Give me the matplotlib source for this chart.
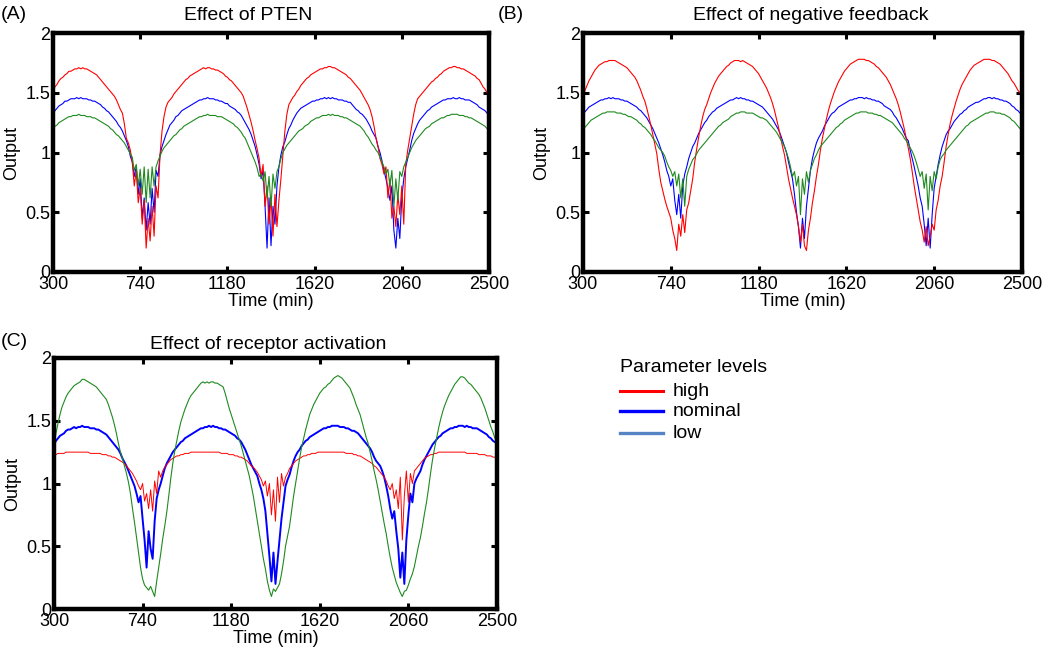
import matplotlib
matplotlib.use("Agg")
import matplotlib.pyplot as plt
from matplotlib.lines import Line2D
import numpy as np

plt.rcParams['font.family'] = ['Liberation Sans', 'DejaVu Sans']

# time grid (min), one sample every 10 min
t = np.arange(300, 2501, 10)

# ---- (A) Effect of PTEN ----
red_a = [1.52, 1.55, 1.57, 1.60, 1.62, 1.63, 1.65, 1.66, 1.68, 1.68, 1.69, 1.70, 1.70, 1.71, 1.70, 1.71, 1.70, 1.70, 1.69, 1.68,
         1.67, 1.66, 1.65, 1.63, 1.61, 1.59, 1.57, 1.55, 1.53, 1.51, 1.49, 1.47, 1.44, 1.40, 1.36, 1.33, 1.24, 1.12, 1.08, 1.02,
         0.92, 0.72, 0.85, 0.58, 0.70, 0.40, 0.60, 0.20, 0.45, 0.26, 0.55, 0.30, 0.72, 0.62, 0.98, 1.18, 1.30, 1.38, 1.42, 1.44,
         1.46, 1.49, 1.51, 1.53, 1.55, 1.57, 1.59, 1.61, 1.62, 1.64, 1.65, 1.66, 1.67, 1.68, 1.69, 1.70, 1.71, 1.70, 1.71, 1.71,
         1.70, 1.70, 1.69, 1.69, 1.68, 1.67, 1.66, 1.64, 1.63, 1.61, 1.60, 1.58, 1.56, 1.54, 1.52, 1.50, 1.47, 1.42, 1.37, 1.31,
         1.25, 1.18, 1.10, 1.03, 0.95, 0.80, 0.90, 0.55, 0.72, 0.40, 0.62, 0.30, 0.65, 0.38, 0.60, 0.78, 0.98, 1.18, 1.32, 1.40,
         1.43, 1.46, 1.48, 1.51, 1.53, 1.56, 1.58, 1.60, 1.62, 1.63, 1.65, 1.66, 1.67, 1.68, 1.69, 1.70, 1.70, 1.71, 1.71, 1.72,
         1.72, 1.71, 1.71, 1.70, 1.69, 1.68, 1.67, 1.66, 1.65, 1.63, 1.62, 1.60, 1.58, 1.56, 1.54, 1.52, 1.49, 1.46, 1.43, 1.40,
         1.36, 1.30, 1.22, 1.12, 1.05, 0.95, 0.90, 0.82, 0.88, 0.62, 0.78, 0.45, 0.55, 0.38, 0.65, 0.48, 0.72, 0.40, 0.90, 1.02,
         1.12, 1.22, 1.32, 1.40, 1.45, 1.47, 1.49, 1.51, 1.53, 1.55, 1.57, 1.59, 1.60, 1.62, 1.63, 1.65, 1.66, 1.68, 1.69, 1.70,
         1.71, 1.71, 1.72, 1.72, 1.71, 1.71, 1.70, 1.70, 1.69, 1.68, 1.67, 1.66, 1.65, 1.64, 1.62, 1.61, 1.58, 1.55, 1.53, 1.50,
         1.48]
blue_a = [1.33, 1.35, 1.37, 1.39, 1.40, 1.41, 1.43, 1.43, 1.44, 1.45, 1.45, 1.45, 1.46, 1.45, 1.46, 1.45, 1.45, 1.45, 1.44, 1.44,
          1.43, 1.43, 1.42, 1.41, 1.40, 1.38, 1.37, 1.35, 1.34, 1.32, 1.30, 1.28, 1.26, 1.23, 1.21, 1.18, 1.14, 1.10, 1.05, 0.97,
          0.92, 0.80, 0.88, 0.65, 0.78, 0.45, 0.62, 0.35, 0.58, 0.40, 0.70, 0.50, 0.85, 0.80, 0.98, 1.05, 1.10, 1.15, 1.19, 1.23,
          1.25, 1.27, 1.30, 1.31, 1.33, 1.35, 1.36, 1.37, 1.38, 1.39, 1.40, 1.41, 1.42, 1.43, 1.44, 1.44, 1.45, 1.45, 1.46, 1.45,
          1.45, 1.45, 1.44, 1.44, 1.43, 1.43, 1.42, 1.41, 1.41, 1.39, 1.38, 1.37, 1.36, 1.34, 1.33, 1.31, 1.28, 1.25, 1.22, 1.19,
          1.15, 1.10, 1.05, 0.98, 0.90, 0.78, 0.85, 0.55, 0.20, 0.62, 0.22, 0.55, 0.40, 0.72, 0.88, 0.98, 1.05, 1.09, 1.15, 1.20,
          1.23, 1.27, 1.30, 1.33, 1.35, 1.37, 1.38, 1.39, 1.40, 1.41, 1.42, 1.43, 1.43, 1.44, 1.44, 1.45, 1.45, 1.46, 1.45, 1.46,
          1.45, 1.46, 1.45, 1.45, 1.44, 1.44, 1.44, 1.43, 1.43, 1.42, 1.42, 1.40, 1.38, 1.36, 1.35, 1.33, 1.32, 1.30, 1.28, 1.25,
          1.22, 1.18, 1.15, 1.12, 1.05, 1.00, 0.93, 0.85, 0.78, 0.70, 0.60, 0.72, 0.35, 0.20, 0.45, 0.28, 0.62, 0.78, 0.88, 0.95,
          1.02, 1.10, 1.16, 1.20, 1.24, 1.27, 1.29, 1.31, 1.33, 1.35, 1.36, 1.38, 1.39, 1.40, 1.41, 1.42, 1.43, 1.44, 1.44, 1.45,
          1.45, 1.45, 1.46, 1.45, 1.45, 1.46, 1.45, 1.45, 1.44, 1.44, 1.44, 1.43, 1.42, 1.41, 1.40, 1.38, 1.37, 1.36, 1.35, 1.33,
          1.32]
green_a = [1.20, 1.22, 1.23, 1.25, 1.26, 1.27, 1.28, 1.29, 1.30, 1.30, 1.31, 1.31, 1.31, 1.32, 1.31, 1.31, 1.31, 1.30, 1.30, 1.30,
           1.29, 1.29, 1.28, 1.27, 1.26, 1.25, 1.24, 1.23, 1.22, 1.20, 1.19, 1.17, 1.15, 1.14, 1.12, 1.10, 1.08, 1.05, 1.02, 0.99,
           0.96, 0.85, 0.90, 0.72, 0.86, 0.65, 0.88, 0.58, 0.86, 0.62, 0.88, 0.72, 0.88, 0.93, 0.97, 1.01, 1.04, 1.06, 1.08, 1.10,
           1.12, 1.14, 1.15, 1.17, 1.19, 1.20, 1.22, 1.23, 1.24, 1.25, 1.26, 1.27, 1.28, 1.29, 1.30, 1.30, 1.31, 1.31, 1.32, 1.31,
           1.31, 1.31, 1.31, 1.30, 1.30, 1.30, 1.29, 1.28, 1.27, 1.26, 1.25, 1.24, 1.22, 1.21, 1.19, 1.17, 1.14, 1.12, 1.08, 1.04,
           1.00, 0.96, 0.92, 0.87, 0.80, 0.82, 0.76, 0.84, 0.62, 0.80, 0.55, 0.82, 0.70, 0.84, 0.88, 0.95, 1.00, 1.03, 1.06, 1.08,
           1.10, 1.12, 1.14, 1.16, 1.18, 1.19, 1.20, 1.22, 1.23, 1.24, 1.26, 1.27, 1.28, 1.29, 1.29, 1.30, 1.31, 1.31, 1.31, 1.32,
           1.31, 1.32, 1.31, 1.31, 1.31, 1.30, 1.30, 1.29, 1.29, 1.28, 1.27, 1.26, 1.25, 1.24, 1.23, 1.22, 1.20, 1.18, 1.15, 1.13,
           1.10, 1.07, 1.05, 1.02, 1.00, 0.96, 0.92, 0.88, 0.82, 0.86, 0.72, 0.85, 0.55, 0.78, 0.60, 0.84, 0.80, 0.88, 0.92, 0.96,
           1.00, 1.04, 1.07, 1.10, 1.12, 1.14, 1.16, 1.18, 1.20, 1.21, 1.22, 1.24, 1.25, 1.26, 1.27, 1.28, 1.29, 1.29, 1.30, 1.31,
           1.31, 1.32, 1.32, 1.32, 1.32, 1.31, 1.31, 1.31, 1.30, 1.30, 1.29, 1.29, 1.28, 1.27, 1.26, 1.25, 1.24, 1.23, 1.22, 1.20,
           1.19]

# ---- (B) Effect of negative feedback ----
red_b = [1.47, 1.52, 1.56, 1.60, 1.63, 1.66, 1.69, 1.71, 1.73, 1.74, 1.75, 1.76, 1.76, 1.77, 1.77, 1.77, 1.77, 1.76, 1.75, 1.74,
         1.73, 1.72, 1.71, 1.69, 1.67, 1.65, 1.63, 1.60, 1.56, 1.52, 1.47, 1.43, 1.37, 1.30, 1.23, 1.15, 1.07, 0.99, 0.86, 0.75,
         0.68, 0.61, 0.55, 0.50, 0.45, 0.35, 0.28, 0.18, 0.40, 0.30, 0.48, 0.33, 0.52, 0.58, 0.68, 0.78, 0.92, 1.03, 1.13, 1.22,
         1.30, 1.36, 1.40, 1.45, 1.50, 1.54, 1.58, 1.61, 1.64, 1.66, 1.68, 1.70, 1.72, 1.73, 1.75, 1.76, 1.77, 1.77, 1.77, 1.76,
         1.77, 1.76, 1.75, 1.74, 1.73, 1.72, 1.70, 1.68, 1.66, 1.63, 1.60, 1.57, 1.54, 1.50, 1.46, 1.41, 1.35, 1.28, 1.21, 1.13,
         1.05, 0.98, 0.88, 0.78, 0.70, 0.62, 0.55, 0.48, 0.38, 0.25, 0.40, 0.22, 0.18, 0.35, 0.45, 0.58, 0.68, 0.80, 0.90, 1.02,
         1.12, 1.20, 1.28, 1.35, 1.41, 1.46, 1.51, 1.55, 1.59, 1.62, 1.65, 1.68, 1.70, 1.72, 1.74, 1.75, 1.76, 1.77, 1.78, 1.78,
         1.78, 1.78, 1.77, 1.77, 1.76, 1.75, 1.74, 1.72, 1.71, 1.69, 1.67, 1.65, 1.63, 1.60, 1.57, 1.53, 1.49, 1.45, 1.40, 1.34,
         1.27, 1.20, 1.12, 1.04, 0.95, 0.84, 0.72, 0.62, 0.52, 0.42, 0.35, 0.25, 0.38, 0.22, 0.30, 0.40, 0.35, 0.52, 0.60, 0.72,
         0.80, 0.92, 1.05, 1.15, 1.24, 1.31, 1.37, 1.43, 1.48, 1.53, 1.57, 1.60, 1.63, 1.66, 1.69, 1.71, 1.73, 1.74, 1.75, 1.76,
         1.77, 1.78, 1.78, 1.78, 1.78, 1.77, 1.77, 1.76, 1.75, 1.74, 1.72, 1.70, 1.68, 1.66, 1.63, 1.60, 1.58, 1.55, 1.52, 1.50,
         1.48]
blue_b = [1.32, 1.34, 1.36, 1.38, 1.39, 1.40, 1.41, 1.42, 1.43, 1.44, 1.44, 1.45, 1.45, 1.46, 1.45, 1.46, 1.45, 1.45, 1.45, 1.44,
          1.44, 1.43, 1.43, 1.42, 1.41, 1.40, 1.39, 1.38, 1.36, 1.35, 1.33, 1.31, 1.29, 1.26, 1.23, 1.20, 1.16, 1.12, 1.08, 1.03,
          0.98, 0.92, 0.85, 0.80, 0.72, 0.78, 0.60, 0.48, 0.65, 0.45, 0.72, 0.82, 0.88, 0.95, 1.00, 1.05, 1.08, 1.12, 1.16, 1.19,
          1.22, 1.25, 1.27, 1.30, 1.32, 1.34, 1.35, 1.37, 1.38, 1.39, 1.40, 1.41, 1.42, 1.43, 1.44, 1.44, 1.45, 1.46, 1.45, 1.46,
          1.45, 1.45, 1.44, 1.44, 1.43, 1.43, 1.42, 1.41, 1.40, 1.39, 1.38, 1.36, 1.34, 1.32, 1.30, 1.28, 1.25, 1.22, 1.19, 1.15,
          1.10, 1.05, 1.00, 0.92, 0.85, 0.78, 0.65, 0.50, 0.38, 0.20, 0.45, 0.28, 0.55, 0.70, 0.85, 0.95, 1.02, 1.08, 1.12, 1.15,
          1.18, 1.22, 1.25, 1.28, 1.31, 1.33, 1.34, 1.36, 1.38, 1.39, 1.40, 1.41, 1.42, 1.43, 1.44, 1.44, 1.45, 1.45, 1.46, 1.46,
          1.46, 1.45, 1.46, 1.45, 1.45, 1.44, 1.44, 1.43, 1.43, 1.42, 1.41, 1.39, 1.38, 1.37, 1.36, 1.34, 1.31, 1.29, 1.26, 1.23,
          1.20, 1.16, 1.12, 1.10, 1.02, 0.95, 0.88, 0.80, 0.72, 0.62, 0.55, 0.40, 0.22, 0.45, 0.20, 0.48, 0.70, 0.80, 0.90, 0.98,
          1.05, 1.10, 1.15, 1.18, 1.20, 1.23, 1.26, 1.28, 1.30, 1.32, 1.33, 1.35, 1.36, 1.38, 1.39, 1.40, 1.41, 1.42, 1.42, 1.43,
          1.44, 1.45, 1.45, 1.46, 1.46, 1.45, 1.46, 1.45, 1.45, 1.44, 1.44, 1.43, 1.43, 1.42, 1.41, 1.39, 1.38, 1.36, 1.35, 1.33,
          1.32]
green_b = [1.19, 1.21, 1.23, 1.25, 1.27, 1.28, 1.29, 1.30, 1.31, 1.32, 1.33, 1.33, 1.34, 1.34, 1.34, 1.34, 1.34, 1.33, 1.33, 1.33,
           1.32, 1.32, 1.31, 1.30, 1.30, 1.29, 1.28, 1.27, 1.25, 1.24, 1.22, 1.21, 1.19, 1.17, 1.15, 1.12, 1.10, 1.07, 1.04, 1.02,
           1.00, 0.97, 0.92, 0.88, 0.85, 0.80, 0.84, 0.72, 0.82, 0.62, 0.78, 0.55, 0.80, 0.86, 0.90, 0.94, 0.96, 0.99, 1.02, 1.04,
           1.06, 1.08, 1.10, 1.12, 1.14, 1.16, 1.18, 1.20, 1.22, 1.23, 1.25, 1.26, 1.27, 1.28, 1.30, 1.31, 1.32, 1.33, 1.33, 1.34,
           1.34, 1.34, 1.33, 1.33, 1.33, 1.33, 1.32, 1.31, 1.30, 1.29, 1.29, 1.28, 1.27, 1.25, 1.23, 1.21, 1.19, 1.17, 1.14, 1.11,
           1.08, 1.05, 1.00, 0.95, 0.88, 0.80, 0.84, 0.72, 0.80, 0.48, 0.78, 0.65, 0.84, 0.75, 0.85, 0.90, 0.95, 0.98, 1.02, 1.05,
           1.07, 1.09, 1.11, 1.13, 1.15, 1.17, 1.19, 1.21, 1.22, 1.24, 1.25, 1.27, 1.28, 1.29, 1.30, 1.31, 1.32, 1.33, 1.33, 1.34,
           1.34, 1.34, 1.34, 1.33, 1.33, 1.33, 1.32, 1.32, 1.31, 1.31, 1.30, 1.29, 1.28, 1.27, 1.26, 1.25, 1.23, 1.21, 1.19, 1.17,
           1.15, 1.12, 1.10, 1.07, 1.04, 1.01, 0.97, 0.92, 0.86, 0.80, 0.84, 0.70, 0.82, 0.52, 0.80, 0.68, 0.84, 0.78, 0.88, 0.94,
           0.97, 0.99, 1.02, 1.04, 1.06, 1.08, 1.10, 1.12, 1.14, 1.16, 1.18, 1.20, 1.22, 1.23, 1.25, 1.26, 1.27, 1.28, 1.29, 1.30,
           1.31, 1.32, 1.33, 1.33, 1.34, 1.34, 1.34, 1.33, 1.33, 1.33, 1.32, 1.32, 1.31, 1.30, 1.29, 1.27, 1.26, 1.24, 1.22, 1.20,
           1.18]

# ---- (C) Effect of receptor activation ----
red_c = [1.23, 1.23, 1.24, 1.24, 1.24, 1.24, 1.25, 1.25, 1.25, 1.25, 1.25, 1.25, 1.25, 1.25, 1.25, 1.25, 1.25, 1.25, 1.24, 1.24,
         1.24, 1.24, 1.24, 1.24, 1.23, 1.23, 1.23, 1.22, 1.22, 1.21, 1.21, 1.20, 1.19, 1.18, 1.17, 1.16, 1.14, 1.12, 1.10, 1.08,
         1.05, 1.02, 0.98, 0.95, 1.00, 0.86, 0.92, 0.80, 0.95, 0.78, 1.02, 0.92, 1.10, 1.05, 1.10, 1.13, 1.15, 1.17, 1.19, 1.20,
         1.21, 1.22, 1.22, 1.23, 1.23, 1.24, 1.24, 1.24, 1.25, 1.25, 1.25, 1.25, 1.25, 1.25, 1.25, 1.25, 1.25, 1.25, 1.25, 1.25,
         1.25, 1.25, 1.25, 1.24, 1.24, 1.24, 1.24, 1.23, 1.23, 1.23, 1.22, 1.22, 1.21, 1.21, 1.20, 1.19, 1.18, 1.16, 1.14, 1.13,
         1.11, 1.09, 1.06, 1.03, 0.98, 1.02, 0.90, 1.00, 0.75, 0.95, 0.70, 1.05, 0.85, 1.08, 0.98, 1.05, 1.08, 1.12, 1.14, 1.16,
         1.18, 1.19, 1.20, 1.21, 1.22, 1.22, 1.23, 1.23, 1.24, 1.24, 1.24, 1.25, 1.25, 1.25, 1.25, 1.25, 1.25, 1.25, 1.25, 1.25,
         1.25, 1.25, 1.25, 1.25, 1.25, 1.24, 1.24, 1.24, 1.24, 1.23, 1.23, 1.22, 1.22, 1.21, 1.20, 1.19, 1.18, 1.17, 1.16, 1.14,
         1.13, 1.11, 1.09, 1.07, 1.05, 1.02, 0.98, 0.95, 1.00, 0.88, 0.95, 0.80, 1.05, 0.55, 0.90, 1.10, 0.85, 1.08, 1.00, 1.10,
         1.12, 1.14, 1.16, 1.18, 1.20, 1.21, 1.22, 1.23, 1.23, 1.24, 1.24, 1.25, 1.25, 1.25, 1.25, 1.25, 1.25, 1.25, 1.25, 1.25,
         1.25, 1.25, 1.25, 1.25, 1.25, 1.24, 1.24, 1.24, 1.24, 1.24, 1.24, 1.23, 1.23, 1.23, 1.23, 1.22, 1.22, 1.22, 1.21, 1.21,
         1.21]
blue_c = [1.31, 1.34, 1.36, 1.38, 1.39, 1.40, 1.42, 1.43, 1.43, 1.44, 1.45, 1.44, 1.45, 1.45, 1.46, 1.45, 1.45, 1.45, 1.44, 1.44,
          1.44, 1.43, 1.43, 1.42, 1.41, 1.40, 1.39, 1.37, 1.35, 1.33, 1.31, 1.29, 1.27, 1.24, 1.20, 1.17, 1.14, 1.10, 1.06, 1.02,
          0.98, 0.92, 0.85, 0.90, 0.72, 0.55, 0.33, 0.62, 0.48, 0.40, 0.70, 0.88, 0.95, 1.00, 1.06, 1.12, 1.16, 1.19, 1.22, 1.25,
          1.27, 1.29, 1.31, 1.33, 1.34, 1.36, 1.37, 1.38, 1.39, 1.40, 1.41, 1.42, 1.43, 1.44, 1.44, 1.45, 1.45, 1.46, 1.45, 1.46,
          1.45, 1.45, 1.44, 1.44, 1.43, 1.43, 1.42, 1.41, 1.40, 1.39, 1.38, 1.36, 1.35, 1.33, 1.30, 1.27, 1.23, 1.19, 1.15, 1.12,
          1.09, 1.06, 1.00, 0.95, 0.88, 0.78, 0.60, 0.42, 0.22, 0.45, 0.20, 0.38, 0.55, 0.72, 0.85, 0.98, 1.03, 1.07, 1.13, 1.18,
          1.22, 1.25, 1.27, 1.30, 1.32, 1.34, 1.35, 1.37, 1.38, 1.39, 1.40, 1.41, 1.42, 1.43, 1.44, 1.44, 1.45, 1.45, 1.46, 1.46,
          1.46, 1.46, 1.45, 1.45, 1.45, 1.44, 1.44, 1.43, 1.42, 1.42, 1.41, 1.40, 1.38, 1.36, 1.34, 1.32, 1.30, 1.28, 1.25, 1.21,
          1.18, 1.16, 1.14, 1.10, 1.05, 0.98, 0.90, 0.80, 0.72, 0.78, 0.62, 0.48, 0.25, 0.45, 0.20, 0.55, 0.75, 0.92, 0.85, 1.00,
          1.04, 1.07, 1.10, 1.15, 1.19, 1.22, 1.25, 1.28, 1.31, 1.33, 1.35, 1.37, 1.38, 1.40, 1.41, 1.42, 1.43, 1.44, 1.44, 1.45,
          1.45, 1.46, 1.46, 1.46, 1.45, 1.46, 1.45, 1.45, 1.44, 1.44, 1.44, 1.43, 1.42, 1.41, 1.40, 1.39, 1.37, 1.36, 1.34, 1.33,
          1.32]
green_c = [1.30, 1.40, 1.48, 1.55, 1.61, 1.65, 1.69, 1.72, 1.74, 1.76, 1.78, 1.79, 1.80, 1.81, 1.83, 1.83, 1.82, 1.81, 1.80, 1.79,
           1.78, 1.77, 1.75, 1.73, 1.71, 1.69, 1.67, 1.63, 1.58, 1.53, 1.47, 1.40, 1.32, 1.25, 1.20, 1.14, 1.08, 1.01, 0.92, 0.80,
           0.69, 0.57, 0.45, 0.33, 0.24, 0.19, 0.17, 0.15, 0.18, 0.14, 0.10, 0.22, 0.33, 0.44, 0.56, 0.66, 0.77, 0.90, 1.04, 1.16,
           1.26, 1.34, 1.42, 1.49, 1.54, 1.59, 1.63, 1.67, 1.70, 1.72, 1.74, 1.76, 1.78, 1.80, 1.81, 1.80, 1.81, 1.80, 1.81, 1.81,
           1.80, 1.80, 1.79, 1.78, 1.77, 1.72, 1.66, 1.60, 1.55, 1.50, 1.45, 1.40, 1.35, 1.30, 1.24, 1.18, 1.12, 1.06, 0.98, 0.90,
           0.80, 0.70, 0.60, 0.50, 0.40, 0.32, 0.22, 0.15, 0.10, 0.16, 0.14, 0.17, 0.20, 0.28, 0.38, 0.50, 0.58, 0.66, 0.78, 0.90,
           1.00, 1.10, 1.20, 1.29, 1.36, 1.43, 1.49, 1.55, 1.59, 1.63, 1.66, 1.69, 1.72, 1.74, 1.76, 1.77, 1.79, 1.80, 1.82, 1.84,
           1.85, 1.86, 1.85, 1.84, 1.82, 1.80, 1.78, 1.76, 1.72, 1.68, 1.63, 1.59, 1.55, 1.49, 1.43, 1.37, 1.32, 1.25, 1.18, 1.10,
           1.03, 0.95, 0.86, 0.77, 0.68, 0.60, 0.50, 0.41, 0.33, 0.27, 0.21, 0.17, 0.13, 0.10, 0.14, 0.15, 0.19, 0.24, 0.28, 0.34,
           0.42, 0.50, 0.57, 0.66, 0.76, 0.85, 0.96, 1.08, 1.19, 1.28, 1.36, 1.44, 1.51, 1.57, 1.62, 1.66, 1.70, 1.73, 1.76, 1.79,
           1.81, 1.83, 1.85, 1.85, 1.84, 1.82, 1.80, 1.79, 1.77, 1.75, 1.73, 1.71, 1.68, 1.64, 1.60, 1.55, 1.50, 1.45, 1.41, 1.36,
           1.32]

xticks = [300, 740, 1180, 1620, 2060, 2500]
yticks = [0, 0.5, 1, 1.5, 2]
ytick_labels = ['0', '0.5', '1', '1.5', '2']

RED = '#ff0000'
BLUE = '#0000ff'
GREEN = '#1f8a1f'
LOW = '#5585c5'

fig = plt.figure(figsize=(10.5, 6.54), dpi=100)
axA = fig.add_axes([0.0505, 0.5841, 0.4152, 0.3654])
axB = fig.add_axes([0.5552, 0.5841, 0.4181, 0.3654])
axC = fig.add_axes([0.0514, 0.0688, 0.4219, 0.3838])

panels = [
    (axA, red_a, blue_a, green_a, 'Effect of PTEN', 0.447, 1.075, 0.8, 0.8),
    (axB, red_b, blue_b, green_b, 'Effect of negative feedback', 0.519, 1.075, 0.8, 0.8),
    (axC, red_c, blue_c, green_c, 'Effect of receptor activation', 0.483, 1.055, 0.7, 1.4),
]

for ax, r, b, g, title, tx, ty, lw_r, lw_b in panels:
    ax.plot(t, b, color=BLUE, lw=lw_b)
    ax.plot(t, r, color=RED, lw=lw_r)
    ax.plot(t, g, color=GREEN, lw=0.8)
    ax.set_xlim(300, 2500)
    ax.set_ylim(0, 2)
    ax.set_xticks(xticks)
    ax.set_yticks(yticks)
    ax.set_yticklabels(ytick_labels)
    ax.tick_params(direction='in', length=4, width=2.2, top=True, right=True,
                   labelsize=13, pad=2)
    ax.tick_params(axis='x', pad=3)
    for s in ax.spines.values():
        s.set_linewidth(3.2)
    ax.set_xlabel('Time (min)', fontsize=13, labelpad=0)
    ax.set_ylabel('Output', fontsize=13, labelpad=4)
    ax.text(tx, ty, title, transform=ax.transAxes, ha='center', va='center', fontsize=14)

fig.text(0.001, 0.978, '(A)', fontsize=14, ha='left', va='center')
fig.text(0.474, 0.978, '(B)', fontsize=14, ha='left', va='center')
fig.text(0.001, 0.478, '(C)', fontsize=14, ha='left', va='center')

# legend drawn in figure coordinates
fig.text(620 / 1050, 1 - 367 / 654, 'Parameter levels', fontsize=14, ha='left', va='center')
for yy, col, lab, lw in [(391, RED, 'high', 2.2), (411, BLUE, 'nominal', 2.4), (433, LOW, 'low', 2.4)]:
    fig.add_artist(Line2D([620 / 1050, 663 / 1050], [1 - yy / 654, 1 - yy / 654], color=col, lw=lw))
    fig.text(673 / 1050, 1 - (yy + 0.5) / 654, lab, fontsize=14, ha='left', va='center')

fig.savefig('out.png', dpi=100)
